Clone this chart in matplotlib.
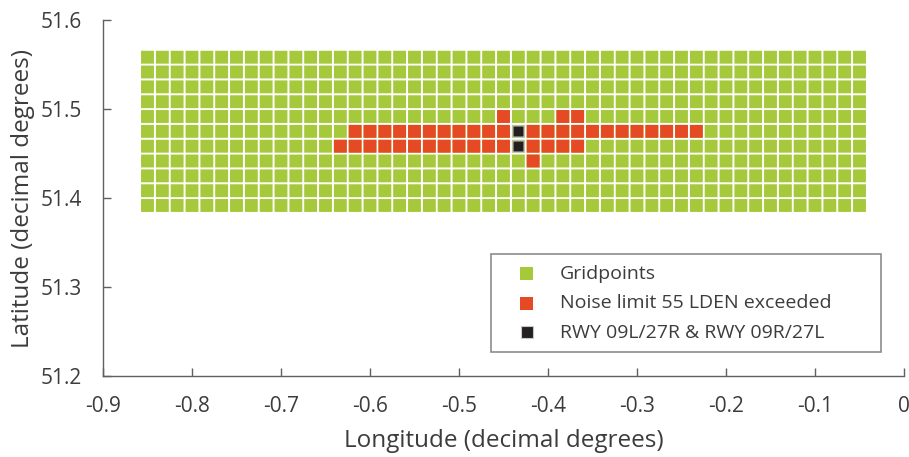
import numpy as np
import matplotlib
matplotlib.use('Agg')
import matplotlib.pyplot as plt

plt.rcParams['font.family'] = ['Open Sans', 'DejaVu Sans']

# grid point longitudes / latitudes (1 arc-minute spacing)
grid_lon = [-0.8500, -0.8333, -0.8167, -0.8000, -0.7833, -0.7667, -0.7500,
            -0.7333, -0.7167, -0.7000, -0.6833, -0.6667, -0.6500, -0.6333,
            -0.6167, -0.6000, -0.5833, -0.5667, -0.5500, -0.5333, -0.5167,
            -0.5000, -0.4833, -0.4667, -0.4500, -0.4333, -0.4167, -0.4000,
            -0.3833, -0.3667, -0.3500, -0.3333, -0.3167, -0.3000, -0.2833,
            -0.2667, -0.2500, -0.2333, -0.2167, -0.2000, -0.1833, -0.1667,
            -0.1500, -0.1333, -0.1167, -0.1000, -0.0833, -0.0667, -0.0500]
grid_lat = [51.3917, 51.4083, 51.4250, 51.4417, 51.4583, 51.4750,
            51.4917, 51.5083, 51.5250, 51.5417, 51.5583]

# grid points where 55 LDEN is exceeded, one list of longitudes per latitude row
exceed_rows = {
    51.4917: [-0.4500, -0.3833, -0.3667],
    51.4750: [-0.6167, -0.6000, -0.5833, -0.5667, -0.5500, -0.5333, -0.5167,
              -0.5000, -0.4833, -0.4667, -0.4500,
              -0.4167, -0.4000, -0.3833, -0.3667, -0.3500, -0.3333, -0.3167,
              -0.3000, -0.2833, -0.2667, -0.2500, -0.2333],
    51.4583: [-0.6333, -0.6167, -0.6000, -0.5833, -0.5667, -0.5500, -0.5333,
              -0.5167, -0.5000, -0.4833, -0.4667, -0.4500,
              -0.4167, -0.4000, -0.3833, -0.3667],
    51.4417: [-0.4167],
}

# runway grid points
rwy_lon = [-0.4333, -0.4333]
rwy_lat = [51.4750, 51.4583]

labels = ['Gridpoints', 'Noise limit 55 LDEN exceeded', 'RWY 09L/27R & RWY 09R/27L']

GREEN = '#a5c93a'
RED = '#e64a25'
BLACK = '#231f20'
TEXT = '#3c3c3c'

lon_g, lat_g = np.meshgrid(grid_lon, grid_lat)
ex_lon = [lo for la, lons in exceed_rows.items() for lo in lons]
ex_lat = [la for la, lons in exceed_rows.items() for lo in lons]

fig = plt.figure(figsize=(9.09, 4.57), dpi=100)
ax = fig.add_axes([0.1133, 0.177, 0.8812, 0.779])

ax.scatter(lon_g.ravel(), lat_g.ravel(), s=86, marker='s', color=GREEN,
           edgecolors='none', label=labels[0], zorder=2, snap=False)
ax.scatter(ex_lon, ex_lat, s=86, marker='s', color=RED,
           edgecolors='none', label=labels[1], zorder=3, snap=False)
ax.scatter(rwy_lon, rwy_lat, s=64, marker='s', color=BLACK,
           edgecolors='#c8c8c8', linewidths=0.8, label=labels[2], zorder=4,
           snap=False)

ax.set_xlim(-0.9, 0)
ax.set_ylim(51.2, 51.6)
ax.set_xticks(np.arange(-0.9, 0.01, 0.1))
ax.set_xticklabels(['-0.9', '-0.8', '-0.7', '-0.6', '-0.5', '-0.4',
                    '-0.3', '-0.2', '-0.1', '0'])
ax.set_yticks([51.2, 51.3, 51.4, 51.5, 51.6])
ax.set_yticklabels(['51.2', '51.3', '51.4', '51.5', '51.6'])

for side in ('top', 'right'):
    ax.spines[side].set_visible(False)
for side in ('left', 'bottom'):
    ax.spines[side].set_color('#606060')
    ax.spines[side].set_linewidth(1.0)

ax.tick_params(direction='in', length=6, width=1.0, color='#606060',
               labelsize=15, labelcolor=TEXT)
ax.tick_params(axis='x', pad=14)
ax.tick_params(axis='y', pad=15)

ax.set_xlabel('Longitude (decimal degrees)', fontsize=17.5, color=TEXT, labelpad=9)
ax.set_ylabel('Latitude (decimal degrees)', fontsize=17.5, color=TEXT, labelpad=4)

leg = ax.legend(loc='lower left', bbox_to_anchor=(0.484, 0.067, 0.487, 0.28),
                mode='expand', fontsize=14, frameon=True, fancybox=False,
                borderpad=0.55, labelspacing=0.58, handletextpad=0.4,
                borderaxespad=0, handlelength=2.6, labelcolor=TEXT)
leg.get_frame().set_edgecolor('#707070')
leg.get_frame().set_linewidth(1.2)

fig.savefig('out.png', dpi=100)
